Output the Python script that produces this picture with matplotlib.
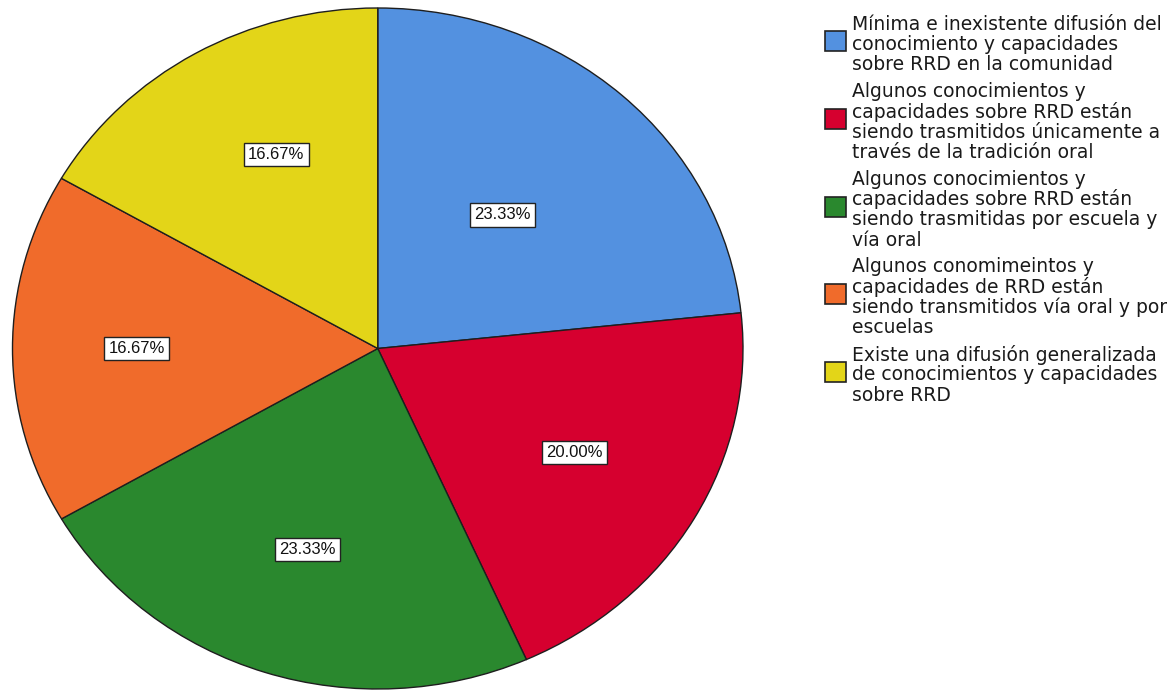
import matplotlib
matplotlib.use("Agg")
import matplotlib.pyplot as plt
from matplotlib.patches import Rectangle
import numpy as np

# Response categories (legend text) and their share of answers in percent
categories = [
    "Mínima e inexistente difusión del\nconocimiento y capacidades\nsobre RRD en la comunidad",
    "Algunos conocimientos y\ncapacidades sobre RRD están\nsiendo trasmitidos únicamente a\ntravés de la tradición oral",
    "Algunos conocimientos y\ncapacidades sobre RRD están\nsiendo trasmitidas por escuela y\nvía oral",
    "Algunos conomimeintos y\ncapacidades de RRD están\nsiendo transmitidos vía oral y por\nescuelas",
    "Existe una difusión generalizada\nde conocimientos y capacidades\nsobre RRD",
]
shares = [23.33, 20.00, 23.33, 16.67, 16.67]
colors = ["#5391E0", "#D6002F", "#2A882E", "#F06B2B", "#E3D518"]

# Placement of each percentage label: fraction of the radius and a small
# angular nudge (degrees) away from the wedge's mid-angle
label_dist = [0.52, 0.62, 0.62, 0.66, 0.633]
label_nudge = [1.0, 0.5, 0.0, 0.0, -4.0]

W, H = 1170, 690
fig = plt.figure(figsize=(W / 100, H / 100), dpi=100)
fig.patch.set_facecolor("white")

# Pie area in pixels: slightly wider than tall, as drawn by the source software
left, right, top, bottom = 12.5, 743.0, 8.0, 689.0
ax = fig.add_axes([left / W, 1 - bottom / H, (right - left) / W, (bottom - top) / H])
wedges, _ = ax.pie(
    shares,
    colors=colors,
    startangle=90,
    counterclock=False,
    wedgeprops=dict(edgecolor="#1e1e1e", linewidth=1.0),
)
ax.set_aspect("auto")
ax.set_xlim(-1, 1)
ax.set_ylim(-1, 1)
ax.axis("off")
for w in wedges:
    w.set_clip_on(False)

for w, val, d, nudge in zip(wedges, shares, label_dist, label_nudge):
    ang = np.deg2rad((w.theta1 + w.theta2) / 2 + nudge)
    ax.text(
        d * np.cos(ang), d * np.sin(ang), f"{val:.2f}%",
        ha="center", va="center", fontsize=12, family="Liberation Sans",
        color="#111111",
        bbox=dict(boxstyle="square,pad=0.25", facecolor="white",
                  edgecolor="#222222", linewidth=1.0),
    )

# Legend: coloured square followed by the wrapped category text
text_x = 852
square_x, square_w, square_h = 825, 21, 20
line_pitch = 20.3
entry_gap = 6.5
y = 24.0
for label, col in zip(categories, colors):
    lines = label.split("\n")
    first = y
    for line in lines:
        fig.text(text_x / W, 1 - y / H, line, ha="left", va="center",
                 fontsize=13.5, family="DejaVu Sans", color="#1a1a1a")
        y += line_pitch
    last = y - line_pitch
    centre = (first + last) / 2 - 3
    fig.add_artist(Rectangle(
        (square_x / W, 1 - (centre + square_h / 2) / H),
        square_w / W, square_h / H,
        transform=fig.transFigure, facecolor=col,
        edgecolor="#222222", linewidth=1.2,
    ))
    y += entry_gap

fig.savefig("out.png", dpi=100, facecolor="white")
